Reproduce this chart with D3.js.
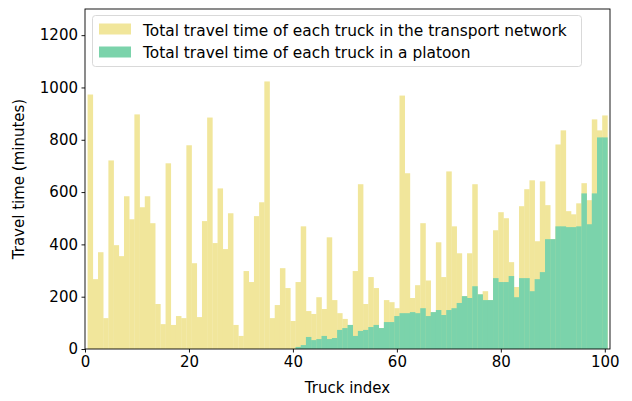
<!DOCTYPE html>
<meta charset="utf-8">
<script src="https://d3js.org/d3.v7.min.js"></script>
<style>
  body { margin: 0; background: #fff; }
  text { font-family: "DejaVu Sans", sans-serif; fill: #000; }
</style>
<div id="chart"></div>
<script>
// values, truck 1..100
var trucks = d3.range(1, 101);
var totalTime = [973, 267, 370, 118, 721, 397, 355, 584, 496, 897,
  542, 584, 481, 172, 95, 710, 92, 126, 118, 779,
  328, 122, 489, 885, 405, 614, 382, 519, 92, 50,
  298, 256, 508, 561, 1023, 118, 168, 309, 233, 107,
  256, 469, 145, 134, 198, 153, 427, 187, 137, 115,
  92, 298, 630, 172, 275, 233, 80, 187, 179, 156,
  969, 672, 195, 244, 481, 262, 141, 408, 275, 679,
  469, 366, 202, 366, 630, 209, 221, 187, 454, 523,
  500, 332, 237, 546, 611, 645, 412, 641, 550, 420,
  782, 836, 527, 515, 557, 634, 569, 878, 836, 893];
var platoonTime = [0, 0, 0, 0, 0, 0, 0, 0, 0, 0,
  0, 0, 0, 0, 0, 0, 0, 0, 0, 0,
  0, 0, 0, 0, 0, 0, 0, 0, 0, 0,
  0, 0, 0, 0, 0, 0, 0, 0, 0, 0,
  8, 15, 46, 34, 38, 50, 38, 42, 73, 80,
  92, 50, 69, 73, 84, 92, 80, 103, 103, 126,
  137, 137, 141, 137, 156, 126, 141, 149, 130, 149,
  156, 176, 202, 195, 240, 209, 187, 187, 271, 256,
  256, 279, 198, 271, 271, 221, 267, 294, 420, 420,
  469, 469, 466, 466, 469, 595, 477, 595, 809, 809];
var xTicks = [0, 20, 40, 60, 80, 100];
var yTicks = [0, 200, 400, 600, 800, 1000, 1200];
var seriesNames = ["Total travel time of each truck in the transport network",
                   "Total travel time of each truck in a platoon"];

var W = 632, H = 401;
var margin = {top: 9, right: 22, bottom: 52, left: 85};
var fs = "15px";

var svg = d3.select("#chart").append("svg")
    .attr("width", W).attr("height", H);

var x = d3.scaleLinear().domain([0, 101]).range([margin.left, W - margin.right]);
var y = d3.scaleLinear().domain([0, 1300]).range([H - margin.bottom, margin.top]);

var yellow = "#f1e69b", green = "#7bd3ab";

function drawBars(vals, color) {
  svg.append("g").selectAll("rect")
    .data(trucks)
    .enter().append("rect")
      .attr("x", function(d) { return x(d - 0.5); })
      .attr("width", function(d) { return x(d + 0.5) - x(d - 0.5) + 0.3; })
      .attr("y", function(d, i) { return y(vals[i]); })
      .attr("height", function(d, i) { return y(0) - y(vals[i]); })
      .attr("fill", color);
}
drawBars(totalTime, yellow);
drawBars(platoonTime, green);

// axes
var xAxis = svg.append("g")
  .attr("transform", "translate(0," + y(0) + ")")
  .call(d3.axisBottom(x).tickValues(xTicks).tickFormat(d3.format("d")).tickSize(3.5).tickPadding(3.5));
var yAxis = svg.append("g")
  .attr("transform", "translate(" + x(0) + ",0)")
  .call(d3.axisLeft(y).tickValues(yTicks).tickFormat(d3.format("d")).tickSize(3.5).tickPadding(3.5));
[xAxis, yAxis].forEach(function(a) {
  a.select(".domain").remove();
  a.selectAll("text").style("font-size", fs).style("font-family", "DejaVu Sans");
  a.selectAll("line").attr("stroke", "#000").attr("stroke-width", 0.9);
});

// frame
svg.append("rect")
  .attr("x", x(0)).attr("y", margin.top)
  .attr("width", x(101) - x(0)).attr("height", y(0) - margin.top)
  .attr("fill", "none").attr("stroke", "#000").attr("stroke-width", 0.9);

svg.append("text")
  .attr("x", (x(0) + x(101)) / 2).attr("y", 393)
  .attr("text-anchor", "middle").style("font-size", fs)
  .text("Truck index");
svg.append("text")
  .attr("transform", "translate(24," + ((margin.top + y(0)) / 2) + ") rotate(-90)")
  .attr("text-anchor", "middle").style("font-size", fs)
  .text("Travel time (minutes)");

// legend
var lg = svg.append("g");
lg.append("rect")
  .attr("x", 92.5).attr("y", 15.5).attr("width", 489).attr("height", 51)
  .attr("rx", 3).attr("fill", "#fff").attr("fill-opacity", 0.8)
  .attr("stroke", "#d5d5d5").attr("stroke-width", 0.9);
[yellow, green].forEach(function(c, i) {
  lg.append("rect")
    .attr("x", 99).attr("y", 23.5 + i * 23).attr("width", 32).attr("height", 11)
    .attr("fill", c);
  lg.append("text")
    .attr("x", 143).attr("y", 35.5 + i * 22)
    .style("font-size", "15.4px")
    .text(seriesNames[i]);
});
</script>
